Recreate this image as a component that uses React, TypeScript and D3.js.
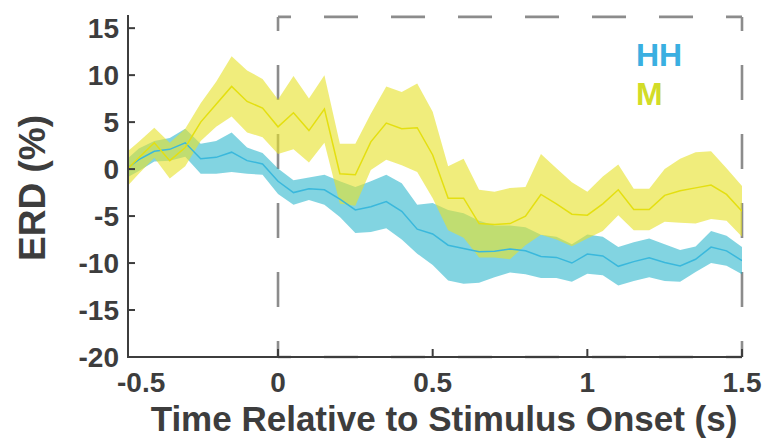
import React from "react";
import * as d3 from "d3";

// Time axis (s) of the averaged ERD traces
const times = [
  -0.5, -0.45, -0.4, -0.35, -0.3, -0.25, -0.2, -0.15, -0.1, -0.05,
  0, 0.05, 0.1, 0.15, 0.2, 0.25, 0.3, 0.35, 0.4, 0.45,
  0.5, 0.55, 0.6, 0.65, 0.7, 0.75, 0.8, 0.85, 0.9, 0.95,
  1, 1.05, 1.1, 1.15, 1.2, 1.25, 1.3, 1.35, 1.4, 1.45, 1.5,
];

// HH condition: mean ERD (%) and standard error
const hhMean = [
  -0.2, 1.0, 1.9, 2.1, 2.8, 1.1, 1.25, 1.8, 0.9, 0.55,
  -1.3, -2.5, -2.1, -2.2, -3.2, -4.35, -4.0, -3.45, -4.5, -6.4,
  -6.9, -8.1, -8.45, -8.8, -8.75, -8.5, -8.7, -9.3, -9.4, -10.0,
  -9.05, -9.25, -10.35, -9.85, -9.45, -9.95, -10.3, -9.6, -8.3, -8.7, -9.75,
];
const hhSem = [
  0.9, 1.2, 1.1, 1.2, 1.5, 1.6, 1.75, 2.1, 1.4, 1.15,
  1.35, 1.3, 1.2, 1.6, 1.9, 2.45, 2.7, 2.85, 3.0, 2.6,
  3.3, 3.75, 3.75, 3.3, 2.75, 2.5, 2.5, 2.3, 2.2, 2.0,
  2.1, 2.05, 2.05, 2.05, 2.05, 1.95, 1.7, 1.35, 1.7, 1.6, 1.45,
];

// M condition: mean ERD (%) and standard error
const mMean = [
  -0.4, 1.2, 2.8, 0.9, 2.3, 5.0, 6.9, 8.8, 7.2, 6.5,
  4.5, 6.0, 4.1, 6.4, -0.5, -0.6, 2.9, 4.9, 4.3, 4.4,
  1.5, -3.1, -3.1, -5.8, -5.9, -5.8, -5.0, -2.7, -3.7, -4.8,
  -4.9, -3.7, -2.2, -4.3, -4.3, -2.8, -2.3, -2.0, -1.7, -2.7, -4.5,
];
const mSem = [
  1.9, 1.7, 1.6, 1.9, 2.0, 2.0, 2.4, 3.2, 3.3, 3.1,
  2.9, 3.9, 3.4, 3.6, 3.2, 3.3, 3.0, 3.9, 3.9, 4.7,
  4.6, 3.4, 4.2, 3.6, 3.5, 3.8, 3.1, 4.3, 3.8, 3.4,
  2.5, 2.9, 2.7, 2.2, 2.2, 2.8, 3.4, 3.8, 3.6, 2.8, 2.7,
];

const xTicks = [-0.5, 0, 0.5, 1, 1.5];
const xTickLabels = ["-0.5", "0", "0.5", "1", "1.5"];
const yTicks = [-20, -15, -10, -5, 0, 5, 10, 15];
const yTickLabels = ["-20", "-15", "-10", "-5", "0", "5", "10", "15"];

const legendLabels = ["HH", "M"];

// Stimulus window outlined by the dashed box
const windowStart = 0;
const windowEnd = 1.5;
const windowTop = 16.2;

const W = 772;
const H = 443;
const FONT = "'Liberation Sans', Arial, Helvetica, sans-serif";
const INK = "#3d3d3d";

export default function App() {
  const x = d3.scaleLinear().domain([-0.485, 1.5]).range([128, 742]);
  const y = d3.scaleLinear().domain([-20, 16.4]).range([357, 15]);
  const [x0, x1] = x.range();
  const [yBottom, yTop] = y.range();

  const band = (mean: number[], sem: number[]) =>
    d3
      .area<number>()
      .x((t) => x(t))
      .y0((_, i) => y(mean[i] - sem[i]))
      .y1((_, i) => y(mean[i] + sem[i]))(times) || "";
  const line = (mean: number[]) =>
    d3
      .line<number>()
      .x((t) => x(t))
      .y((_, i) => y(mean[i]))(times) || "";

  const bx0 = x(windowStart);
  const bx1 = x(windowEnd);
  const by0 = y(windowTop);

  return (
    <svg
      width={W}
      height={H}
      style={{ position: "absolute", left: 0, top: 0, background: "#fff" }}
      fontFamily={FONT}
    >
      <defs>
        <clipPath id="plot-clip">
          <rect x={x0} y={yTop} width={x1 - x0} height={yBottom - yTop} />
        </clipPath>
      </defs>

      {/* dashed stimulus window */}
      <g stroke="#8c8c8c" strokeWidth={2.6} fill="none">
        <line x1={bx0} y1={by0} x2={bx1} y2={by0} strokeDasharray="34 33" strokeDashoffset={21} />
        <line x1={bx0} y1={by0} x2={bx0} y2={yBottom} strokeDasharray="35 34" strokeDashoffset={21} />
        <line x1={bx1} y1={by0} x2={bx1} y2={yBottom} strokeDasharray="35 34" strokeDashoffset={21} />
        <line x1={bx0} y1={yBottom} x2={bx1} y2={yBottom} strokeDasharray="34 33" strokeDashoffset={21} />
      </g>

      <g clipPath="url(#plot-clip)">
        <path d={band(hhMean, hhSem)} fill="#1bb0c8" fillOpacity={0.55} />
        <path d={band(mMean, mSem)} fill="#e6e22c" fillOpacity={0.62} />
        <path d={line(hhMean)} fill="none" stroke="#3ab8dc" strokeWidth={1.5} />
        <path d={line(mMean)} fill="none" stroke="#e4df10" strokeWidth={1.5} />
      </g>

      {/* axes */}
      <g stroke={INK} strokeWidth={2}>
        <line x1={x0} y1={yTop} x2={x0} y2={yBottom + 1} />
        <line x1={x0 - 1} y1={yBottom} x2={x1} y2={yBottom} />
        {yTicks.map((t) => (
          <line key={"yt" + t} x1={x0} x2={x0 + 7} y1={y(t)} y2={y(t)} />
        ))}
        {xTicks
          .filter((t) => x(t) > x0 + 2)
          .map((t) => (
            <line key={"xt" + t} x1={x(t)} x2={x(t)} y1={yBottom} y2={yBottom - 8} />
          ))}
      </g>

      <g fill={INK} fontWeight="bold" fontSize={28}>
        {yTicks.map((t, i) => (
          <text key={"yl" + t} x={x0 - 9} y={y(t) + 10} textAnchor="end">
            {yTickLabels[i]}
          </text>
        ))}
        {xTicks.map((t, i) => (
          <text
            key={"xl" + t}
            x={i === 0 ? x0 - 11 : x(t)}
            y={392}
            textAnchor={i === 0 ? "start" : "middle"}
          >
            {xTickLabels[i]}
          </text>
        ))}
      </g>

      <text
        x={444}
        y={431}
        textAnchor="middle"
        fontWeight="bold"
        fontSize={35}
        fill={INK}
      >
        Time Relative to Stimulus Onset (s)
      </text>
      <text
        transform={`translate(45, 188) rotate(-90)`}
        textAnchor="middle"
        fontWeight="bold"
        fontSize={37}
        fill={INK}
      >
        ERD (%)
      </text>

      {/* legend */}
      <g fontWeight="bold" fontSize={32}>
        <text x={636} y={66} fill="#3aafe1">
          {legendLabels[0]}
        </text>
        <text x={636} y={105} fill="#d2dc28">
          {legendLabels[1]}
        </text>
      </g>
    </svg>
  );
}
